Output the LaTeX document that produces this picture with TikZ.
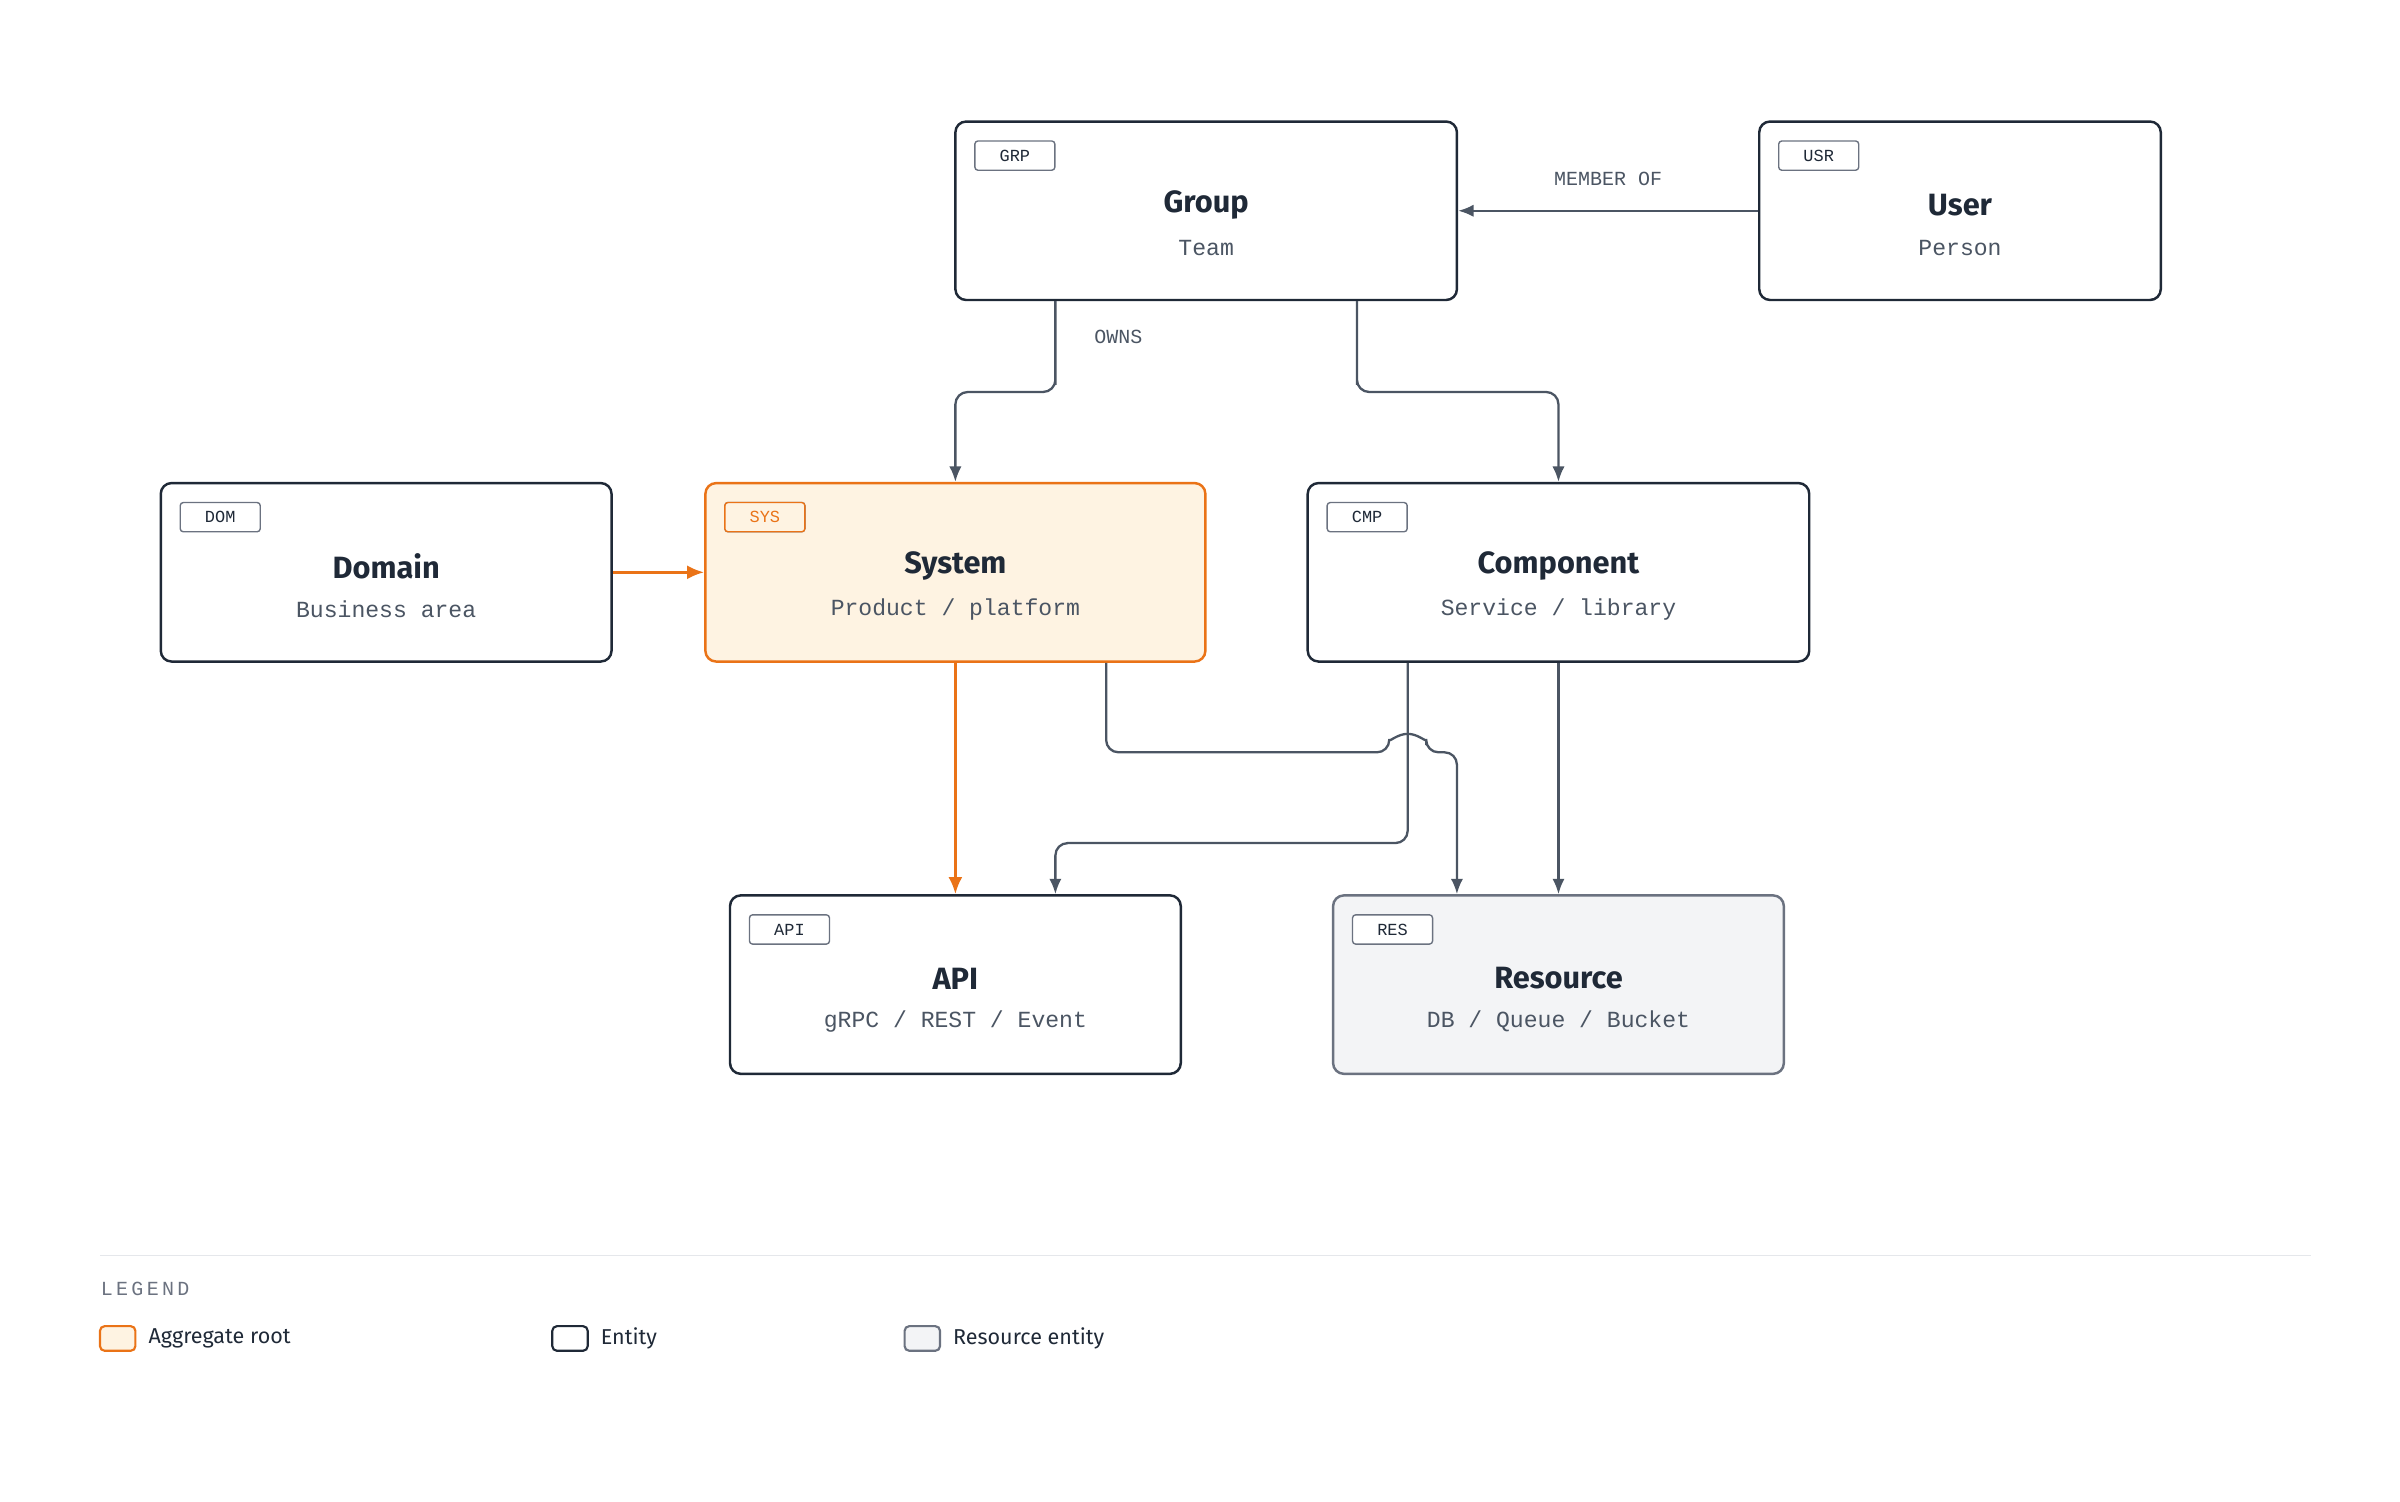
\documentclass[tikz,border=0pt]{standalone}
\usepackage{fontspec}
\setmainfont{Fira Sans}
\setmonofont{Liberation Mono}
\usetikzlibrary{arrows.meta,positioning}

\definecolor{Ink}{HTML}{1F2937}
\definecolor{Wire}{HTML}{4B5563}
\definecolor{Root}{HTML}{EA7317}
\definecolor{RootFill}{HTML}{FEF3E2}
\definecolor{ResFill}{HTML}{F3F4F6}
\definecolor{ResLine}{HTML}{6B7280}
\definecolor{Rule}{HTML}{E5E7EB}

\tikzset{
  entity/.style={draw=Ink, line width=1.6pt, rounded corners=7pt, fill=white, minimum height=116pt, inner sep=0pt},
  root/.style={entity, draw=Root, fill=RootFill},
  resrc/.style={entity, draw=ResLine, fill=ResFill},
  tag/.style={draw=ResLine, line width=0.9pt, rounded corners=2pt, fill=white, minimum width=52pt, minimum height=19pt, inner sep=0pt, font=\ttfamily\fontsize{11}{11}\selectfont, text=Ink, anchor=north west},
  title/.style={font=\fontsize{20}{20}\selectfont\bfseries, text=Ink},
  sub/.style={font=\ttfamily\fontsize{15}{15}\selectfont, text=Wire},
  conn/.style={draw=Wire, line width=1.5pt, -{Latex[length=10pt,width=8pt]}},
  hot/.style={draw=Root, line width=1.8pt, -{Latex[length=11pt,width=9pt]}},
  lbl/.style={font=\ttfamily\fontsize{13}{13}\selectfont, text=Wire},
}

\begin{document}
\begin{tikzpicture}[x=1pt, y=-1pt]
 \useasboundingbox (0,0) rectangle (1560,976);

 %%%%%%%%%% Entities %%%%%%%%%%
 \node[entity, minimum width=326pt] (grp) at (784,137) {};
 \node[entity, minimum width=261pt] (usr) at (1274,137) {};
 \node[entity, minimum width=293pt] (dom) at (251,372) {};
 \node[root,   minimum width=325pt] (sys) at (621,372) {};
 \node[entity, minimum width=326pt] (cmp) at (1013,372) {};
 \node[entity, minimum width=293pt] (api) at (621,640) {};
 \node[resrc,  minimum width=293pt] (res) at (1013,640) {};

 % titles, subtitles and tags
 \foreach \n/\t/\s/\g in {grp/Group/Team/GRP, usr/User/Person/USR, dom/Domain/Business area/DOM,
   sys/System/{Product / platform}/SYS, cmp/Component/{Service / library}/CMP,
   api/API/{gRPC / REST / Event}/API, res/Resource/{DB / Queue / Bucket}/RES}
 {
   \node[title] (\n-t) at ([yshift=4pt]\n.center) {\t};
   \node[sub] (\n-s) at ([yshift=-24pt]\n.center) {\s};
   \node[tag] (\n-g) at ([xshift=13pt,yshift=-13pt]\n.north west) {\g};
 }
 \node[tag, draw=Root, fill=RootFill, text=Root] at ([xshift=13pt,yshift=-13pt]sys.north west) {SYS};

 %%%%%%%%%% Connectors %%%%%%%%%%
 \draw[conn] (usr.west) -- (grp.east) node[lbl, midway, above=12pt] {MEMBER OF};
 \draw[conn, rounded corners=8pt] ([xshift=-98pt]grp.south) |- ++(0,59) -| (sys.north);
 \node[lbl] (owns) at (727,219) {OWNS};
 \draw[conn, rounded corners=8pt] ([xshift=98pt]grp.south) |- ++(0,59) -| (cmp.north);

 \draw[hot] (dom.east) -- (sys.west);
 \draw[hot] (sys.south) -- (api.north);

 \draw[conn, rounded corners=8pt] ([xshift=98pt]sys.south) |- (903,489)
   arc[start angle=180, end angle=0, radius=12pt] -- (927,489) -| ([xshift=-66pt]res.north);
 \draw[conn, rounded corners=8pt] ([xshift=-98pt]cmp.south) |- (686,548) -- ([xshift=65pt]api.north);
 \draw[conn] (cmp.south) -- (res.north);

 %%%%%%%%%% Legend %%%%%%%%%%
 \draw[Rule, line width=1pt] (65,816) -- (1502,816);
 \node[lbl, anchor=west, text=ResLine] (leg) at (62,838) {L\,E\,G\,E\,N\,D};
 \draw[draw=Root, fill=RootFill, line width=1.4pt, rounded corners=3pt] (65,862) rectangle (88,878);
 \node[anchor=west, font=\fontsize{14}{14}\selectfont, text=Ink] at (93,870) {Aggregate root};
 \draw[draw=Ink, fill=white, line width=1.4pt, rounded corners=3pt] (359,862) rectangle (382,878);
 \node[anchor=west, font=\fontsize{14}{14}\selectfont, text=Ink] at (387,870) {Entity};
 \draw[draw=ResLine, fill=ResFill, line width=1.4pt, rounded corners=3pt] (588,862) rectangle (611,878);
 \node[anchor=west, font=\fontsize{14}{14}\selectfont, text=Ink] at (616,870) {Resource entity};

\end{tikzpicture}
\end{document}
